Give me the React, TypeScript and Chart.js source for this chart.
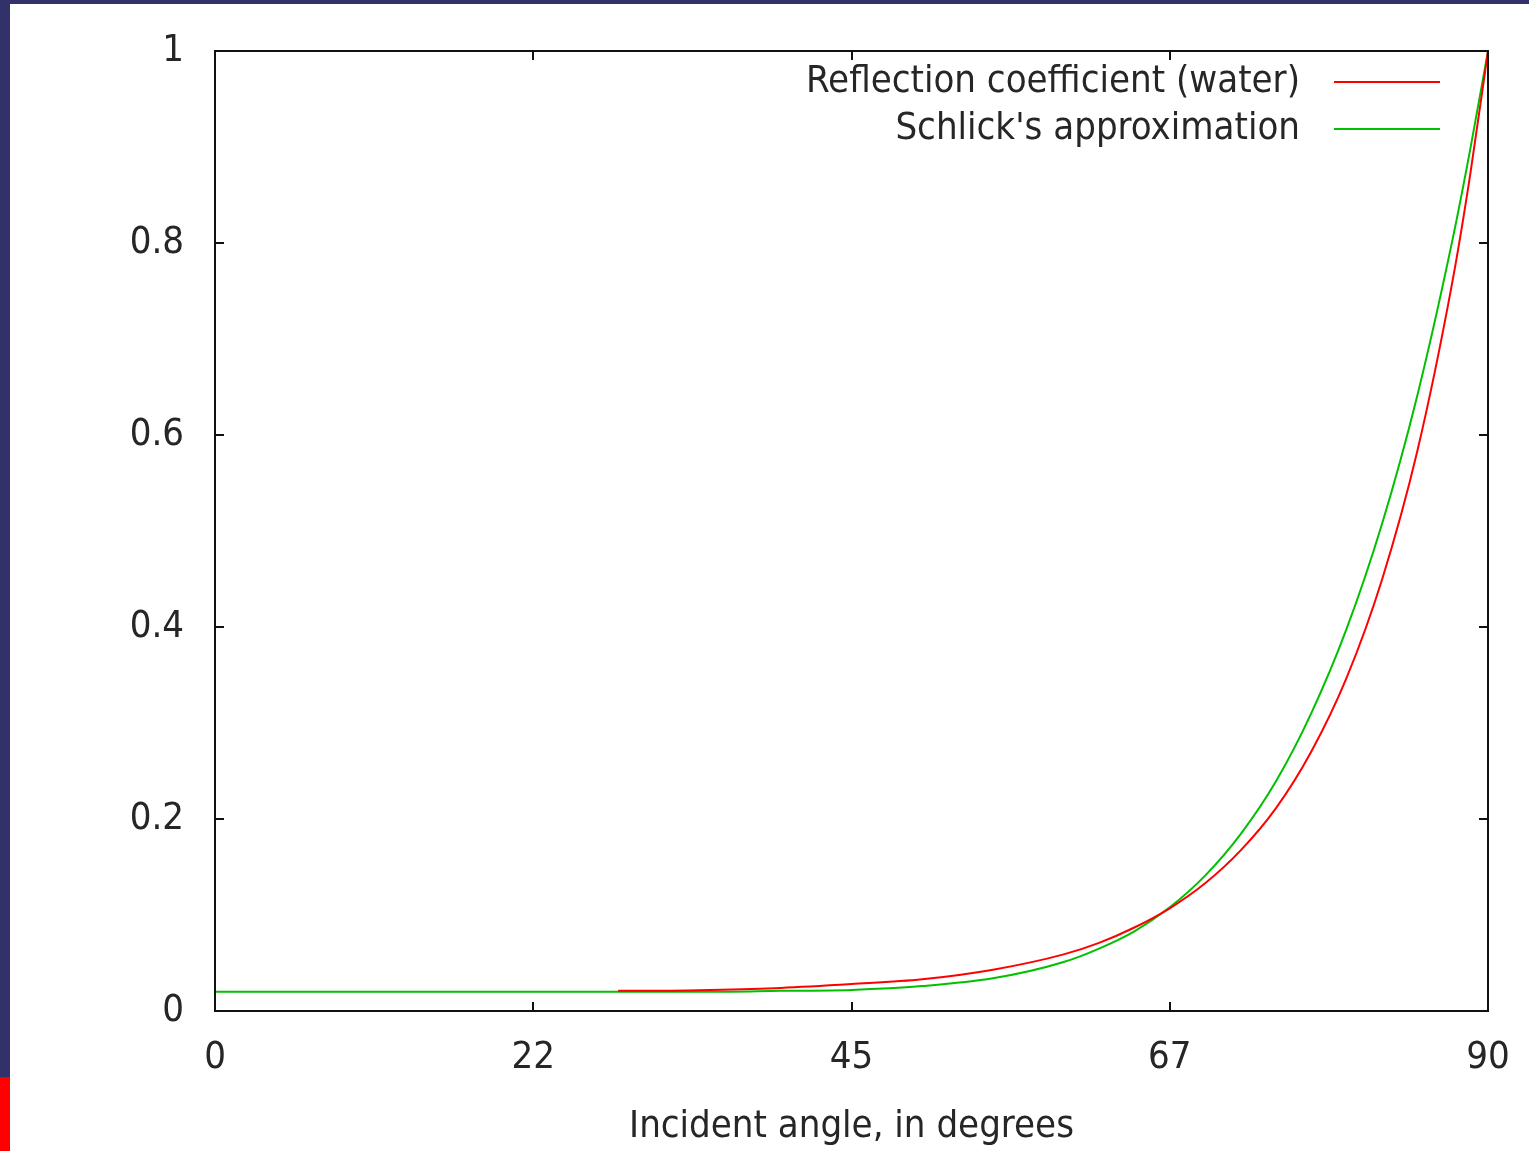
import React, { useEffect, useRef } from 'react';
import { Chart, registerables } from 'chart.js';

Chart.register(...registerables);

// Fresnel reflection coefficient for water
const fresnelAngles = [28.5, 30, 35, 40, 45, 50, 55, 60, 62.5, 65, 67.5, 70, 72.5, 75, 77.5, 80, 82.5, 85, 87.5, 88.75, 90];
const fresnelValues = [0.021, 0.021, 0.022, 0.024, 0.028, 0.033, 0.043, 0.059, 0.071, 0.087, 0.107, 0.133, 0.167, 0.211, 0.27, 0.347, 0.449, 0.583, 0.761, 0.872, 1.0];

// Schlick's approximation
const schlickAngles = [0, 10, 20, 30, 35, 40, 45, 50, 55, 60, 62.5, 65, 67.5, 70, 72.5, 75, 77.5, 80, 82.5, 85, 87.5, 88.75, 90];
const schlickValues = [0.02, 0.02, 0.02, 0.02, 0.02, 0.021, 0.022, 0.026, 0.034, 0.051, 0.065, 0.083, 0.108, 0.141, 0.184, 0.239, 0.31, 0.398, 0.507, 0.641, 0.804, 0.898, 1.0];

const seriesLabels = ['Reflection coefficient (water)', "Schlick's approximation"];
const seriesColors = ['#ff0000', '#00c000'];

const xTickValues = [0, 22.5, 45, 67.5, 90];
const xTickLabels = ['0', '22', '45', '67', '90'];
const yTickValues = [0, 0.2, 0.4, 0.6, 0.8, 1];
const yTickLabels = ['0', '0.2', '0.4', '0.6', '0.8', '1'];
const xTitle = 'Incident angle, in degrees';

const FONT_FAMILY = "'DejaVu Sans Condensed', 'DejaVu Sans', sans-serif";
const FONT_SIZE = 38;
const TEXT_COLOR = '#262626';

const framePlugin = {
  id: 'gnuplotFrame',
  afterDatasetsDraw(chart: any) {
    const { ctx, chartArea } = chart;
    const { left, right, top, bottom } = chartArea;
    const xs = chart.scales.x;
    const ys = chart.scales.y;
    const tick = 9;
    ctx.save();
    ctx.strokeStyle = '#111';
    ctx.lineWidth = 2;
    ctx.strokeRect(left, top, right - left, bottom - top);
    ctx.beginPath();
    xTickValues.forEach((v) => {
      const px = Math.round(xs.getPixelForValue(v));
      ctx.moveTo(px, bottom);
      ctx.lineTo(px, bottom - tick);
      ctx.moveTo(px, top);
      ctx.lineTo(px, top + tick);
    });
    yTickValues.forEach((v) => {
      const py = Math.round(ys.getPixelForValue(v));
      ctx.moveTo(left, py);
      ctx.lineTo(left + tick, py);
      ctx.moveTo(right, py);
      ctx.lineTo(right - tick, py);
    });
    ctx.stroke();
    ctx.restore();
  },
  afterDraw(chart: any) {
    const { ctx } = chart;
    const textRight = 1290;
    const lineStart = 1324;
    const lineEnd = 1430;
    const firstY = 78;
    const rowGap = 47;
    ctx.save();
    ctx.font = `${FONT_SIZE}px ${FONT_FAMILY}`;
    ctx.textAlign = 'right';
    ctx.textBaseline = 'middle';
    chart.data.datasets.forEach((ds: any, i: number) => {
      const y = firstY + i * rowGap;
      ctx.fillStyle = TEXT_COLOR;
      ctx.fillText(ds.label, textRight, y);
      ctx.strokeStyle = ds.borderColor;
      ctx.lineWidth = 2;
      ctx.beginPath();
      ctx.moveTo(lineStart, y);
      ctx.lineTo(lineEnd, y);
      ctx.stroke();
    });
    ctx.restore();
  },
};

function clearScalePadding(scale: any) {
  scale.paddingTop = 0;
  scale.paddingBottom = 0;
  scale.paddingLeft = 0;
  scale.paddingRight = 0;
}

export default function App() {
  const canvasRef = useRef<HTMLCanvasElement | null>(null);

  useEffect(() => {
    if (!canvasRef.current) return;
    const chart = new Chart(canvasRef.current, {
      type: 'line',
      data: {
        datasets: [
          {
            label: seriesLabels[0],
            data: fresnelAngles.map((a, i) => ({ x: a, y: fresnelValues[i] })),
            borderColor: seriesColors[0],
            backgroundColor: seriesColors[0],
            borderWidth: 2,
            pointRadius: 0,
            cubicInterpolationMode: 'monotone',
            fill: false,
          },
          {
            label: seriesLabels[1],
            data: schlickAngles.map((a, i) => ({ x: a, y: schlickValues[i] })),
            borderColor: seriesColors[1],
            backgroundColor: seriesColors[1],
            borderWidth: 2,
            pointRadius: 0,
            cubicInterpolationMode: 'monotone',
            fill: false,
          },
        ],
      },
      options: {
        responsive: false,
        animation: false,
        layout: { padding: { top: 47, right: 41, left: 0, bottom: 0 } },
        plugins: {
          legend: { display: false },
          tooltip: { enabled: false },
        },
        scales: {
          x: {
            type: 'linear',
            min: 0,
            max: 90,
            grid: { display: false, drawTicks: false },
            border: { display: false },
            afterBuildTicks: (scale: any) => {
              scale.ticks = xTickValues.map((v) => ({ value: v }));
            },
            afterFit: (scale: any) => {
              scale.height = 140;
              clearScalePadding(scale);
            },
            ticks: {
              autoSkip: false,
              maxRotation: 0,
              padding: 24,
              color: TEXT_COLOR,
              font: { family: FONT_FAMILY, size: FONT_SIZE },
              callback: (_v: any, index: number) => xTickLabels[index],
            },
            title: {
              display: true,
              text: xTitle,
              color: TEXT_COLOR,
              font: { family: FONT_FAMILY, size: FONT_SIZE },
              padding: { top: 0, bottom: 1 },
            },
          },
          y: {
            type: 'linear',
            min: 0,
            max: 1,
            grid: { display: false, drawTicks: false },
            border: { display: false },
            afterBuildTicks: (scale: any) => {
              scale.ticks = yTickValues.map((v) => ({ value: v }));
            },
            afterFit: (scale: any) => {
              scale.width = 205;
              clearScalePadding(scale);
            },
            ticks: {
              autoSkip: false,
              padding: 31,
              color: TEXT_COLOR,
              font: { family: FONT_FAMILY, size: FONT_SIZE },
              callback: (_v: any, index: number) => yTickLabels[index],
            },
          },
        },
      },
      plugins: [framePlugin],
    } as any);
    return () => chart.destroy();
  }, []);

  return (
    <div style={{ position: 'fixed', left: 0, top: 0, width: 1529, height: 1151, background: '#33316a', overflow: 'hidden' }}>
      <div style={{ position: 'absolute', left: 10, top: 4, width: 1519, height: 1147, background: '#ffffff' }}>
        <canvas ref={canvasRef} width={1519} height={1147} style={{ display: 'block', width: 1519, height: 1147 }} />
      </div>
      <div style={{ position: 'absolute', left: 0, top: 1077, width: 10, height: 74, background: '#ff0000' }} />
    </div>
  );
}
